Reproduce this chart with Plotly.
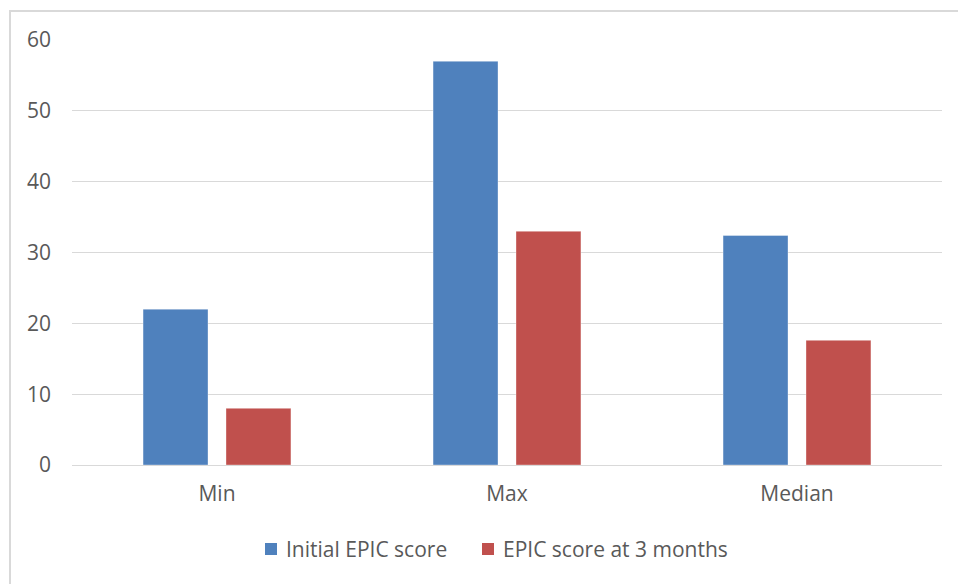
import plotly.graph_objects as go

# Summary statistics of EPIC scores
categories = ["Min", "Max", "Median"]
initial_scores = [22, 57, 32.4]
scores_3_months = [8, 33, 17.6]
y_ticks = [0, 10, 20, 30, 40, 50, 60]
series_names = ["Initial EPIC score", "EPIC score at 3 months"]

BLUE = "#4F81BD"
RED = "#C0504D"
GRID = "#D9D9D9"
TEXT = "#595959"
FONT = "Open Sans"
FS = 21

fig = go.Figure()
fig.add_trace(go.Bar(
    x=categories, y=initial_scores, name=series_names[0],
    marker=dict(color=BLUE, line=dict(color="rgba(255,255,255,0.35)", width=1)),
))
fig.add_trace(go.Bar(
    x=categories, y=scores_3_months, name=series_names[1],
    marker=dict(color=RED, line=dict(color="rgba(255,255,255,0.35)", width=1)),
))

W, H = 958, 584
ml, mr, mt, mb = 72, 16, 40, 119
pw, ph = W - ml - mr, H - mt - mb

def px_x(p):
    return (p - ml) / pw

def px_y(p):
    return (H - mb - p) / ph

# Outer chart border
shapes = [dict(
    type="rect", xref="paper", yref="paper",
    x0=px_x(10), x1=px_x(970), y0=px_y(600), y1=px_y(11),
    line=dict(color=GRID, width=2), fillcolor="rgba(0,0,0,0)",
    layer="below",
)]
annotations = []

# Legend below the plot: colour swatch followed by the series name
legend_items = [(265, BLUE, series_names[0]), (482, RED, series_names[1])]
for left, color, name in legend_items:
    shapes.append(dict(
        type="rect", xref="paper", yref="paper",
        x0=px_x(left), x1=px_x(left + 12), y0=px_y(555), y1=px_y(543),
        line=dict(width=0), fillcolor=color,
    ))
    annotations.append(dict(
        xref="paper", yref="paper", x=px_x(left + 19), y=px_y(549),
        xanchor="left", yanchor="middle", showarrow=False, text=name,
        font=dict(family=FONT, size=FS, color=TEXT),
    ))

fig.update_layout(
    width=W, height=H,
    margin=dict(l=ml, r=mr, t=mt, b=mb, pad=0),
    paper_bgcolor="white", plot_bgcolor="white",
    font=dict(family=FONT, size=FS, color=TEXT),
    barmode="group", bargap=0.428, bargroupgap=0.217,
    showlegend=False,
    xaxis=dict(
        showgrid=False, showline=False, zeroline=False,
        ticks="", ticklabelstandoff=14,
        tickfont=dict(family=FONT, size=FS, color=TEXT),
    ),
    yaxis=dict(
        range=[0, 60], tickvals=y_ticks, showgrid=True, gridcolor=GRID,
        gridwidth=1, zeroline=True, zerolinecolor=GRID, zerolinewidth=1,
        showline=False, ticks="", ticklabelstandoff=20,
        tickfont=dict(family=FONT, size=FS, color=TEXT),
    ),
    shapes=shapes,
    annotations=annotations,
)

fig.write_html("out.html")
